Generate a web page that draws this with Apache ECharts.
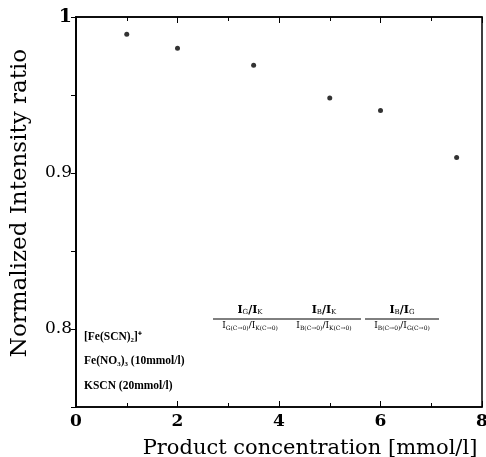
<!DOCTYPE html>
<html>
<head>
    <meta charset="utf-8">
    <title>scatter</title>
    <script src="https://cdn.jsdelivr.net/npm/echarts@6/dist/echarts.min.js"></script>
</head>
<body style="margin:0">

<div id="main" style="width: 486px;height:457px;"></div>

<script type="text/javascript">
    // data
    var concentration = [1, 2, 3.5, 5, 6, 7.5];
    var ratio = [0.989, 0.980, 0.969, 0.948, 0.940, 0.910];
    var yTickLabels = {'0.8': '0.8', '0.9': '0.9', '1': '{b|1}'};
    var noteLines = ['[Fe(SCN)₂]⁺', 'Fe(NO₃)₃ (10mmol/l)', 'KSCN (20mmol/l)'];
    var fractions = [
        ['I_G/I_K', 'I_G(C→0)/I_K(C→0)'],
        ['I_B/I_K', 'I_B(C→0)/I_K(C→0)'],
        ['I_B/I_G', 'I_B(C→0)/I_G(C→0)']
    ];

    var points = [];
    for (var i = 0; i < concentration.length; i++) {
        points.push([concentration[i], ratio[i]]);
    }

    var serif = 'DejaVu Serif';

    function yLabel(v) {
        var k = String(Math.round(v * 100) / 100);
        return yTickLabels[k] || '';
    }

    // 'I_G(C→0)/I_K' -> rich text, letter after _ (and its bracket) as subscript
    function richText(s) {
        var out = '';
        var parts = s.split('/');
        for (var p = 0; p < parts.length; p++) {
            var m = parts[p].split('_');
            if (p > 0) out += '{c|/}';
            out += '{c|' + m[0] + '}';
            if (m[1]) out += '{s|' + m[1] + '}';
        }
        return out;
    }

    var graphics = [];
    var fx = [250, 324, 402];
    for (var j = 0; j < fractions.length; j++) {
        graphics.push({
            type: 'text', x: fx[j], y: 316,
            style: {
                text: richText(fractions[j][0]),
                align: 'center', verticalAlign: 'bottom',
                rich: {
                    c: {fontFamily: serif, fontSize: 11, fontWeight: 'bold', fill: '#000'},
                    s: {fontFamily: serif, fontSize: 7, fill: '#000', padding: [5, 0, 0, 0]}
                }
            }
        });
        graphics.push({
            type: 'line',
            shape: {x1: fx[j] - 37, y1: 319, x2: fx[j] + 37, y2: 319},
            style: {stroke: '#000', lineWidth: 1}
        });
        graphics.push({
            type: 'text', x: fx[j], y: 321,
            style: {
                text: richText(fractions[j][1]),
                align: 'center', verticalAlign: 'top',
                rich: {
                    c: {fontFamily: serif, fontSize: 9, fill: '#000'},
                    s: {fontFamily: serif, fontSize: 6, fill: '#000', padding: [4, 0, 0, 0]}
                }
            }
        });
    }
    for (var n = 0; n < noteLines.length; n++) {
        graphics.push({
            type: 'text', left: 84, top: 331 + n * 24.5,
            style: {text: noteLines[n], font: 'bold 11.5px "Liberation Serif"', fill: '#000'}
        });
    }

    var myChart = echarts.init(document.getElementById('main'));

    var option = {
        animation: false,
        grid: {left: 76, right: 4, top: 17, bottom: 50, show: true, borderColor: '#000', borderWidth: 1.5, outerBoundsMode: 'none'},
        xAxis: [{
            type: 'value', min: 0, max: 8, interval: 2,
            name: 'Product concentration [mmol/l]', nameLocation: 'middle', nameGap: 31,
            nameTextStyle: {fontFamily: serif, fontSize: 21, color: '#000', padding: [0, 0, 0, 62]},
            axisLine: {lineStyle: {color: '#000', width: 1.5}},
            axisTick: {inside: true, length: 6, lineStyle: {color: '#000'}},
            minorTick: {show: true, splitNumber: 2, length: 4, lineStyle: {color: '#000'}},
            axisLabel: {fontFamily: serif, fontSize: 17, fontWeight: 'bold', color: '#000', margin: 6},
            splitLine: {show: false}
        }, {
            type: 'value', min: 0, max: 8, interval: 2, position: 'top',
            axisLine: {lineStyle: {color: '#000', width: 1.5}},
            axisTick: {inside: true, length: 6, lineStyle: {color: '#000'}},
            minorTick: {show: true, splitNumber: 2, length: 4, lineStyle: {color: '#000'}},
            axisLabel: {show: false},
            splitLine: {show: false}
        }],
        yAxis: [{
            type: 'value', min: 0.75, max: 1.0, interval: 0.05,
            name: 'Normalized Intensity ratio', nameLocation: 'middle', nameGap: 44,
            nameTextStyle: {fontFamily: serif, fontSize: 23, color: '#000', padding: [0, 0, 0, 18]},
            axisLine: {lineStyle: {color: '#000', width: 1.5}},
            axisTick: {length: 5, lineStyle: {color: '#000'}},
            axisLabel: {
                fontFamily: serif, fontSize: 17, color: '#000', margin: 4, formatter: yLabel,
                rich: {b: {fontFamily: serif, fontSize: 19, fontWeight: 'bold', color: '#000'}}
            },
            splitLine: {show: false}
        }, {
            type: 'value', min: 0.75, max: 1.0, interval: 0.05, position: 'right',
            axisLine: {show: true, lineStyle: {color: '#000', width: 1.5}},
            axisTick: {show: true, inside: true, length: 5, lineStyle: {color: '#000'}},
            axisLabel: {show: false},
            splitLine: {show: false}
        }],
        series: [{
            type: 'scatter',
            data: points,
            symbol: 'circle',
            symbolSize: 5,
            itemStyle: {color: '#000'}
        }],
        graphic: graphics
    };

    myChart.setOption(option);
</script>
</body>
</html>
